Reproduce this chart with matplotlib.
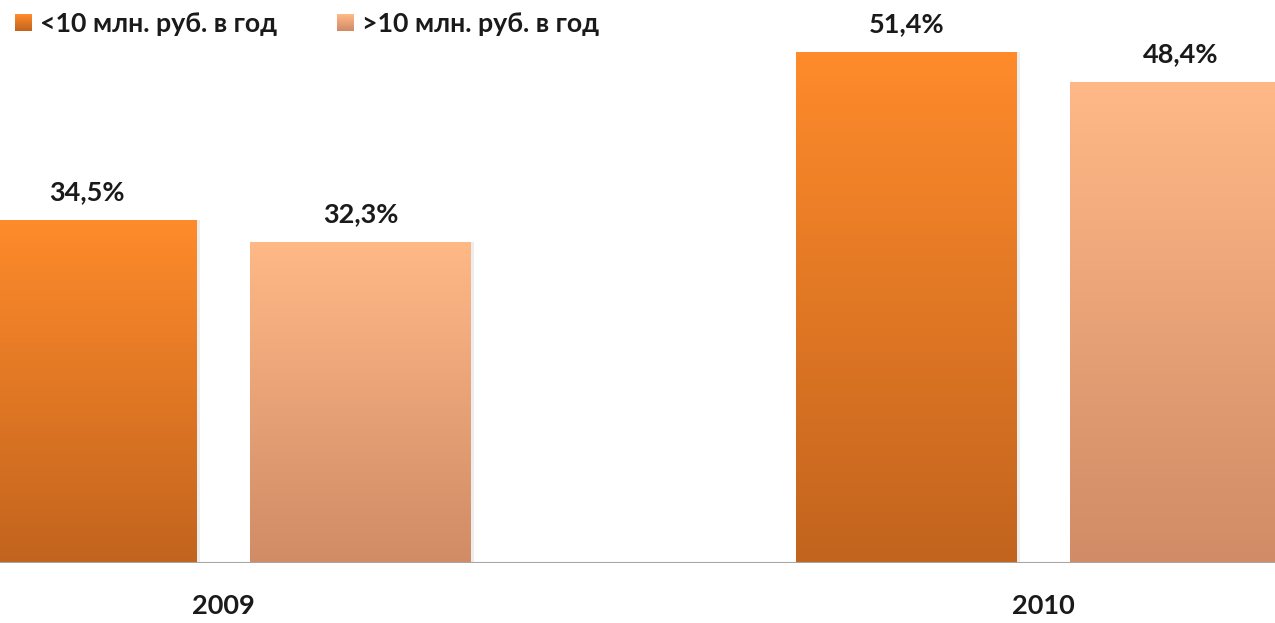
import numpy as np
import matplotlib
matplotlib.use("Agg")
import matplotlib.pyplot as plt
from matplotlib.colors import LinearSegmentedColormap

plt.rcParams['font.family'] = ['Lato', 'DejaVu Sans']

years = ['2009', '2010']
series_names = ['<10 млн. руб. в год', '>10 млн. руб. в год']
small_vals = [34.5, 51.4]
big_vals = [32.3, 48.4]
value_labels = [['34,5%', '51,4%'], ['32,3%', '48,4%']]

# gradient (top, bottom) per series
grads = [('#FF8B2B', '#C2641E'), ('#FFB987', '#D18B66')]

fig = plt.figure(figsize=(12.75, 6.23), dpi=100)
ax = fig.add_axes([0, 60 / 623, 1, 563 / 623])

x = np.arange(len(years))
width = 0.2695
offset = 0.167

for i, vals in enumerate([small_vals, big_vals]):
    pos = x - offset if i == 0 else x + offset
    bars = ax.bar(pos, vals, width, color='none', edgecolor='none', zorder=2)
    cmap = LinearSegmentedColormap.from_list('g%d' % i, [grads[i][1], grads[i][0]])
    for b, v, lab in zip(bars, vals, value_labels[i]):
        x0, w, h = b.get_x(), b.get_width(), b.get_height()
        # soft shadow
        ax.bar(x0 + w / 2 + 0.003, h, w, bottom=-0.05, color='#000000', alpha=0.07, zorder=1)
        grad = np.linspace(0, 1, 256).reshape(-1, 1)
        im = ax.imshow(grad, cmap=cmap, aspect='auto', origin='lower',
                       extent=[x0, x0 + w, 0, h], zorder=2)
        im.set_clip_path(b)
        ax.text(x0 + w / 2, h + 1.6, lab, ha='center', va='bottom',
                fontsize=19.5, fontweight='bold', color='#1a1a1a')

ax.set_xlim(-0.273, 1.282)
ax.set_ylim(0, 56.6)
ax.axhline(0, color='#a6a6a6', lw=1.5, zorder=3)
for s in ax.spines.values():
    s.set_visible(False)
ax.set_xticks(x)
ax.set_xticklabels(years, fontsize=19.5, fontweight='bold', color='#1a1a1a')
ax.tick_params(axis='x', length=0, pad=22)
ax.set_yticks([])

# legend
leg_x = [15, 337]
for i, name in enumerate(series_names):
    lc = LinearSegmentedColormap.from_list('l%d' % i, [grads[i][1], grads[i][0]])
    fig.figimage(np.linspace(0, 1, 17).reshape(-1, 1) * np.ones((1, 17)),
                 xo=leg_x[i], yo=623 - 31, cmap=lc, origin='lower', zorder=3)
    fig.text((leg_x[i] + 25) / 1275, 1 - 32 / 623, name, ha='left', va='baseline',
             fontsize=19.3, fontweight='bold', color='#1a1a1a')

fig.savefig('out.png', dpi=100)
